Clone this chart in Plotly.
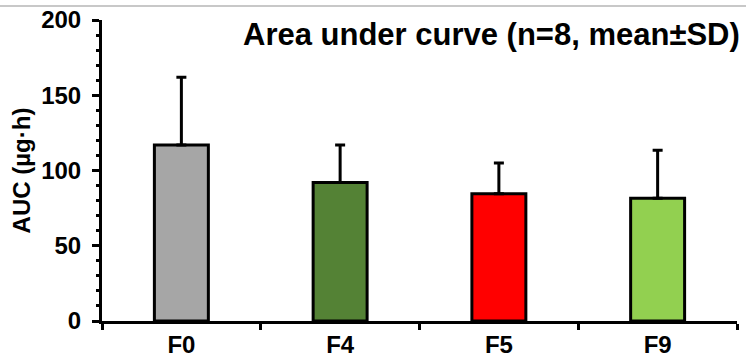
import plotly.graph_objects as go

categories = ["F0", "F4", "F5", "F9"]
auc_mean = [117, 92, 84.5, 81.5]
auc_sd = [45, 25, 20.5, 32]
bar_colors = ["#A6A6A6", "#548235", "#FF0000", "#92D050"]
y_ticks = [0, 50, 100, 150, 200]

FONT = "Arial, Liberation Sans, sans-serif"

fig = go.Figure()
fig.add_trace(go.Bar(
    x=categories, y=auc_mean,
    marker=dict(color=bar_colors, line=dict(color="black", width=3)),
    error_y=dict(type="data", symmetric=False, array=auc_sd,
                 arrayminus=[0] * len(auc_sd),
                 color="black", thickness=3, width=5),
    width=0.34,
))

fig.update_layout(
    width=746, height=364,
    margin=dict(l=102, r=9, t=20, b=43),
    paper_bgcolor="white", plot_bgcolor="white",
    showlegend=False,
    font=dict(family=FONT, color="black"),
    xaxis=dict(
        automargin=False,
        showline=True, linecolor="black", linewidth=3,
        ticks="outside", ticklen=6, tickwidth=3, tickcolor="black",
        tickson="boundaries",
        tickfont=dict(size=24, family=FONT, weight="bold"),
        showgrid=False, zeroline=False,
    ),
    yaxis=dict(
        automargin=False,
        range=[0, 200], tickvals=y_ticks,
        showline=True, linecolor="black", linewidth=3,
        ticks="outside", ticklen=7, tickwidth=3, tickcolor="black",
        minor=dict(dtick=10, ticks="outside", ticklen=3, tickwidth=3, tickcolor="black", showgrid=False),
        tickfont=dict(size=24, family=FONT, weight="bold"),
        ticklabelstandoff=6,
        showgrid=False, zeroline=False,
        title=dict(text="AUC (µg·h)", font=dict(size=24, family=FONT, weight="bold"), standoff=4),
    ),
    annotations=[dict(
        text="Area under curve (n=8, mean±SD)",
        xref="paper", yref="paper", x=1.0, y=1.0,
        xanchor="right", yanchor="middle", yshift=-14, xshift=5,
        showarrow=False,
        font=dict(size=31, family=FONT, weight="bold", color="black"),
    )],
    shapes=[dict(type="line", xref="paper", yref="paper",
                 x0=-0.2, x1=1.05, y0=1.0465, y1=1.0465,
                 line=dict(color="#C8C8C8", width=2))],
)

fig.write_html("out.html",
               config={"displayModeBar": False},
               post_script="document.body.style.margin='0';document.body.style.padding='0';")
